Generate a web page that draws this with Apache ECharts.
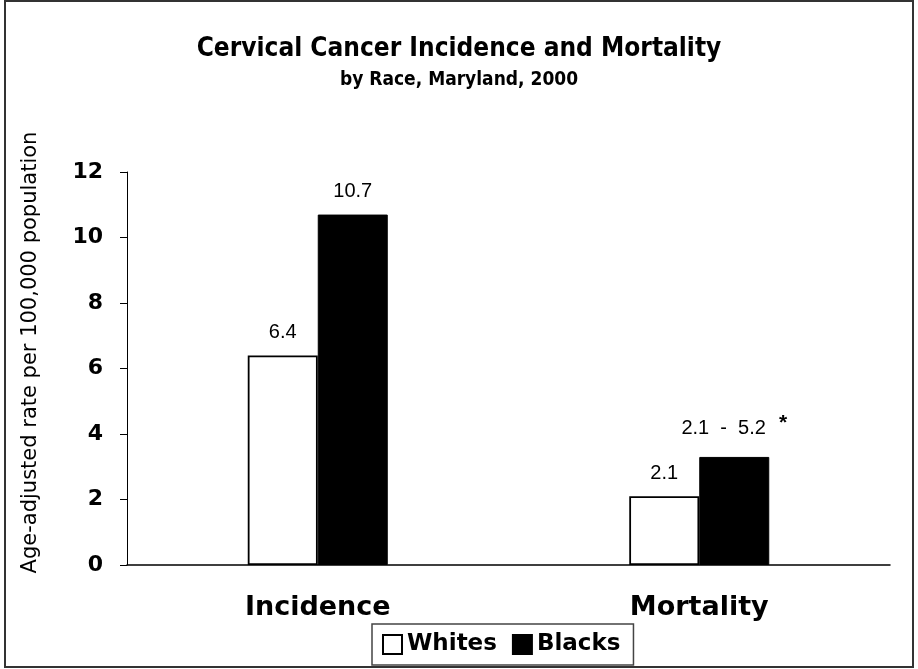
<!DOCTYPE html>
<html>
<head>
<meta charset="utf-8">
<script src="https://cdn.jsdelivr.net/npm/echarts@6/dist/echarts.min.js"></script>
<style>
html,body{margin:0;padding:0;background:#fff;}
#chart{width:918px;height:669px;}
</style>
</head>
<body>
<div id="chart"></div>
<script>
// Categories and rates (age-adjusted per 100,000)
const categories = ['Incidence', 'Mortality'];
const whites = [6.4, 2.1];
const blacks = [10.7, 3.3];
// Printed labels above the bars
const whiteLabels = ['6.4', '2.1'];
const blackLabels = ['10.7', '2.1  -  5.2{s|*}'];
const yTicks = [0, 2, 4, 6, 8, 10, 12];

const chart = echarts.init(document.getElementById('chart'));

const labelFont = { fontFamily: 'Liberation Sans, Arial, sans-serif', fontSize: 20, color: '#000' };

chart.setOption({
  animation: false,
  backgroundColor: '#fff',
  title: {
    text: 'Cervical Cancer Incidence and Mortality',
    subtext: 'by Race, Maryland, 2000',
    left: 'center',
    top: 31,
    itemGap: 9,
    textStyle: { fontFamily: 'DejaVu Sans Condensed', fontWeight: 'bold', fontSize: 26, color: '#000' },
    subtextStyle: { fontFamily: 'DejaVu Sans Condensed', fontWeight: 'bold', fontSize: 19, color: '#000' }
  },
  graphic: [{
    type: 'rect',
    shape: { x: 5, y: 1, width: 908, height: 666 },
    style: { fill: 'none', stroke: '#333', lineWidth: 2 },
    silent: true
  }],
  legend: {
    data: ['Whites', 'Blacks'],
    icon: 'rect',
    left: 372,
    top: 624,
    itemWidth: 19,
    itemHeight: 19,
    itemGap: 15,
    padding: [9, 13, 9, 10],
    borderColor: '#444',
    borderWidth: 1.5,
    textStyle: { fontFamily: 'DejaVu Sans', fontWeight: 'bold', fontSize: 23, color: '#000' },
    selectedMode: false
  },
  grid: { left: 127, right: 28, top: 172, bottom: 104 },
  xAxis: {
    type: 'category',
    data: categories,
    axisLine: { lineStyle: { color: '#000', width: 1.5 } },
    axisTick: { show: false },
    axisLabel: { fontFamily: 'DejaVu Sans', fontWeight: 'bold', fontSize: 27, color: '#000', margin: 29 }
  },
  yAxis: {
    type: 'value',
    min: yTicks[0],
    max: yTicks[yTicks.length - 1],
    interval: 2,
    name: 'Age-adjusted rate per 100,000 population',
    nameLocation: 'middle',
    nameRotate: 90,
    nameGap: 86,
    nameTextStyle: { fontFamily: 'DejaVu Sans', fontSize: 21, color: '#000', padding: [0, 0, 0, 32] },
    axisLine: { show: true, lineStyle: { color: '#000', width: 1 } },
    axisTick: { show: true, inside: false, length: 7, lineStyle: { color: '#000' } },
    splitLine: { show: false },
    axisLabel: { fontFamily: 'DejaVu Sans', fontWeight: 'bold', fontSize: 22, color: '#000', margin: 24 }
  },
  series: [
    {
      name: 'Whites',
      type: 'bar',
      data: whites,
      barWidth: 70,
      barGap: '0%',
      itemStyle: { color: '#fff', borderColor: '#000', borderWidth: 1.8 },
      label: {
        show: true,
        position: 'top',
        distance: 13,
        formatter: p => whiteLabels[p.dataIndex],
        ...labelFont
      }
    },
    {
      name: 'Blacks',
      type: 'bar',
      data: blacks,
      barWidth: 70,
      barGap: '0%',
      itemStyle: { color: '#000', borderColor: '#000', borderWidth: 1 },
      label: {
        show: true,
        position: 'top',
        distance: 13,
        formatter: p => blackLabels[p.dataIndex],
        ...labelFont,
        rich: { s: { fontFamily: 'Liberation Sans, Arial, sans-serif', fontWeight: 'bold', fontSize: 21, color: '#000', verticalAlign: 'top', padding: [0, 0, 10, 13] } }
      }
    }
  ]
});
</script>
</body>
</html>
